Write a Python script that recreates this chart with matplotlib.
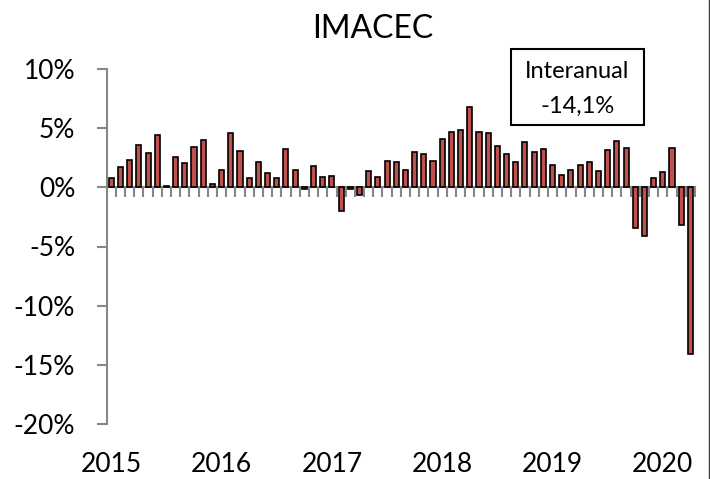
import matplotlib
matplotlib.use('Agg')
import matplotlib.pyplot as plt
import matplotlib.transforms as mtransforms
from matplotlib.patches import Rectangle
from matplotlib.lines import Line2D

plt.rcParams['font.family'] = ['Lato', 'DejaVu Sans']

# IMACEC, variacion interanual (%), ene-2015 .. abr-2020
imacec = [0.8, 1.75, 2.3, 3.6, 2.9, 4.45, 0.15, 2.6, 2.05, 3.4, 4.0, 0.25,
          1.5, 4.6, 3.05, 0.75, 2.1, 1.25, 0.75, 3.2, 1.45, -0.1, 1.8, 0.9,
          1.0, -2.0, -0.15, -0.65, 1.4, 0.9, 2.2, 2.15, 1.45, 2.95, 2.8, 2.25,
          4.05, 4.7, 4.85, 6.75, 4.7, 4.55, 3.5, 2.8, 2.15, 3.85, 2.95, 3.2,
          1.85, 1.05, 1.45, 1.9, 2.15, 1.4, 3.15, 3.9, 3.3, -3.4, -4.1, 0.8,
          1.3, 3.35, -3.15, -14.1]
years = ['2015', '2016', '2017', '2018', '2019', '2020']
yticks = [10, 5, 0, -5, -10, -15, -20]
box_lines = ['Interanual', '-14,1%']

W, H = 710, 479
fig = plt.figure(figsize=(W / 100, H / 100), dpi=100)
ax = fig.add_axes([106.7 / W, 1 - 424 / H, (695 - 106.7) / W, (424 - 69) / H])

x = range(len(imacec))
ax.bar(x, imacec, width=0.55, color='#C0504D', edgecolor='black', linewidth=1.2, zorder=3)

ax.set_xlim(-0.5, len(imacec) - 0.5)
ax.set_ylim(-20, 10)

grey = '#868686'
for s in ['top', 'right']:
    ax.spines[s].set_visible(False)
ax.spines['left'].set_color(grey)
ax.spines['left'].set_linewidth(1.5)
ax.spines['bottom'].set_position(('data', 0))
ax.spines['bottom'].set_color(grey)
ax.spines['bottom'].set_linewidth(1.5)
ax.spines['bottom'].set_zorder(2)

ax.set_xticks([i + 0.5 for i in range(len(imacec))])
ax.tick_params(axis='x', direction='out', length=7.2, width=1.5, color=grey, labelbottom=False)
ax.set_yticks(yticks)
ax.set_yticklabels([f'{v}%' for v in yticks])
ax.tick_params(axis='y', direction='out', length=7.2, width=1.5, color=grey, pad=15.5, labelsize=19)

# etiquetas de años abajo
trans = mtransforms.blended_transform_factory(ax.transData, fig.transFigure)
for k, yr in enumerate(years):
    ax.text(12 * k, 1.5 / H, yr, transform=trans, ha='center', va='bottom', fontsize=19)

fig.text(373 / W, 1 - 38 / H, 'IMACEC', ha='center', va='baseline', fontsize=23)

# cuadro Interanual
bx0, bx1, by0, by1 = 510.7, 644, 49, 125
fig.patches.append(Rectangle((bx0 / W, 1 - by1 / H), (bx1 - bx0) / W, (by1 - by0) / H,
                             transform=fig.transFigure, fill=False, edgecolor='black', linewidth=1.5))
cx = (bx0 + bx1) / 2 / W
fig.text(cx, 1 - 78.5 / H, box_lines[0], ha='center', va='baseline', fontsize=17)
fig.text(cx, 1 - 113 / H, box_lines[1], ha='center', va='baseline', fontsize=17)

# borde derecho del grafico
fig.lines.append(Line2D([708.5 / W, 708.5 / W], [0, 1], transform=fig.transFigure, color='#404040', linewidth=1))

fig.savefig('out.png', dpi=100)
